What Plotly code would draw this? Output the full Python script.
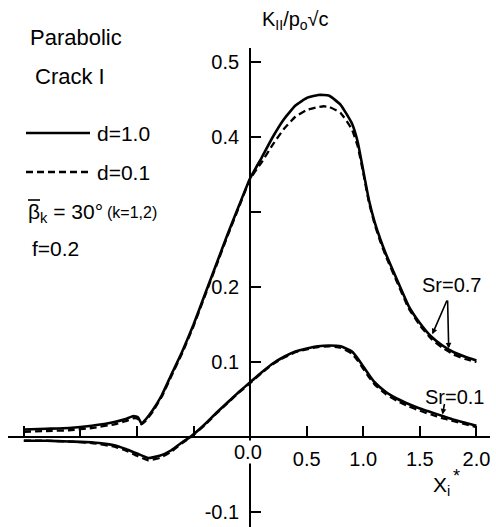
import plotly.graph_objects as go

# ---------------- data ----------------
x_hi = [-2.0, -1.8, -1.6, -1.4, -1.2, -1.1, -1.03, -0.99, -0.96, -0.92, -0.86, -0.78, -0.7, -0.6,
        -0.5, -0.4, -0.3, -0.2, -0.1, 0.0, 0.1, 0.2, 0.3, 0.4, 0.5, 0.6, 0.65, 0.7, 0.8, 0.9,
        0.95, 1.0, 1.05, 1.1, 1.15, 1.2, 1.3, 1.4, 1.5, 1.6, 1.7, 1.8, 1.9, 2.0]
sr07_d10 = [0.010, 0.011, 0.012, 0.015, 0.020, 0.024, 0.028, 0.026, 0.018, 0.024, 0.036, 0.056, 0.082, 0.114,
            0.150, 0.190, 0.230, 0.270, 0.308, 0.345, 0.372, 0.400, 0.424, 0.442, 0.452, 0.456, 0.456, 0.455, 0.443, 0.418,
            0.394, 0.355, 0.316, 0.287, 0.264, 0.244, 0.209, 0.175, 0.152, 0.134, 0.122, 0.113, 0.107, 0.102]
sr07_d01 = [0.007, 0.008, 0.009, 0.012, 0.017, 0.021, 0.025, 0.024, 0.017, 0.022, 0.034, 0.054, 0.080, 0.112,
            0.148, 0.188, 0.228, 0.268, 0.306, 0.344, 0.366, 0.390, 0.411, 0.427, 0.436, 0.440, 0.441, 0.440, 0.432, 0.410,
            0.388, 0.352, 0.313, 0.284, 0.261, 0.241, 0.206, 0.172, 0.149, 0.131, 0.119, 0.110, 0.104, 0.100]

x_lo = [-2.0, -1.8, -1.6, -1.4, -1.2, -1.1, -1.0, -0.9, -0.8, -0.7, -0.6, -0.53, -0.4, -0.3, -0.2, -0.1,
        0.0, 0.1, 0.2, 0.3, 0.4, 0.5, 0.6, 0.7, 0.8, 0.9, 0.95, 1.0, 1.05, 1.1, 1.2, 1.3, 1.4, 1.5,
        1.6, 1.7, 1.8, 1.9, 2.0]
sr01_d10 = [-0.005, -0.005, -0.006, -0.007, -0.011, -0.016, -0.022, -0.028, -0.025, -0.018, -0.007, 0.0, 0.017, 0.032, 0.046, 0.060,
            0.073, 0.086, 0.098, 0.107, 0.114, 0.118, 0.121, 0.122, 0.121, 0.114, 0.105, 0.094, 0.083, 0.073, 0.060, 0.051, 0.044, 0.038,
            0.033, 0.028, 0.023, 0.019, 0.015]
sr01_d01 = [-0.005, -0.005, -0.006, -0.008, -0.013, -0.018, -0.025, -0.031, -0.028, -0.020, -0.008, -0.001, 0.016, 0.031, 0.045, 0.059,
            0.072, 0.085, 0.097, 0.106, 0.113, 0.117, 0.120, 0.121, 0.119, 0.111, 0.102, 0.091, 0.080, 0.070, 0.057, 0.048, 0.041, 0.035,
            0.030, 0.025, 0.021, 0.017, 0.013]

x_tickvals = [0.5, 1.0, 1.5, 2.0]
x_ticktext = ["0.5", "1.0", "1.5", "2.0"]
x_minor_ticks = [-2.0, -1.5, -1.0, -0.5]
y_tickvals = [-0.1, 0.1, 0.2, 0.4, 0.5]
y_ticktext = ["-0.1", "0.1", "0.2", "0.4", "0.5"]
y_minor_ticks = [0.3]

XR = [-2.14, 2.12]
YR = [-0.12, 0.5187]

# ---------------- figure ----------------
W, H = 496, 527
ML, MR, MT, MB = 8, 6, 48, 0
PW, PH = W - ML - MR, H - MT - MB
FONT = "Liberation Sans, Arial, sans-serif"


def px(x):
    return (x - ML) / PW


def py(y):
    return (H - MB - y) / PH


fig = go.Figure()
fig.add_trace(go.Scatter(x=x_hi, y=sr07_d10, mode="lines", line=dict(color="black", width=2.6, shape="spline", smoothing=0.4), showlegend=False))
fig.add_trace(go.Scatter(x=x_hi, y=sr07_d01, mode="lines", line=dict(color="black", width=2.3, dash="7px,4px", shape="spline", smoothing=0.4), showlegend=False))
fig.add_trace(go.Scatter(x=x_lo, y=sr01_d10, mode="lines", line=dict(color="black", width=2.6, shape="spline", smoothing=0.4), showlegend=False))
fig.add_trace(go.Scatter(x=x_lo, y=sr01_d01, mode="lines", line=dict(color="black", width=2.3, dash="7px,4px", shape="spline", smoothing=0.4), showlegend=False))

xpos = (0 - YR[0]) / (YR[1] - YR[0])
ypos = (0 - XR[0]) / (XR[1] - XR[0])

fig.update_layout(
    width=W, height=H,
    margin=dict(l=ML, r=MR, t=MT, b=MB, pad=0),
    paper_bgcolor="white", plot_bgcolor="white",
    font=dict(family=FONT, size=20, color="black"),
    xaxis=dict(range=XR, anchor="free", position=xpos, showline=True, linecolor="black", linewidth=2,
               ticks="inside", ticklen=10, tickwidth=2, tickcolor="black",
               tickvals=x_tickvals, ticktext=x_ticktext, showgrid=False, zeroline=False,
               minor=dict(tickvals=x_minor_ticks, ticks="inside", ticklen=10, tickwidth=2,
                          tickcolor="black", showgrid=False),
               tickfont=dict(family=FONT, size=20), ticklabelstandoff=4),
    yaxis=dict(range=YR, anchor="free", position=ypos, showline=True, linecolor="black", linewidth=2,
               ticks="inside", ticklen=10, tickwidth=2, tickcolor="black",
               tickvals=y_tickvals, ticktext=y_ticktext, showgrid=False, zeroline=False,
               minor=dict(tickvals=y_minor_ticks, ticks="inside", ticklen=10, tickwidth=2,
                          tickcolor="black", showgrid=False),
               tickfont=dict(family=FONT, size=20), ticklabelstandoff=6),
)

ann = []


def text(t, x, y, size=21, xanchor="left", bg=None):
    d = dict(text=t, x=px(x), y=py(y), xref="paper", yref="paper", showarrow=False,
             xanchor=xanchor, yanchor="middle", font=dict(family=FONT, size=size, color="black"))
    if bg:
        d.update(bgcolor=bg, borderpad=0)
    ann.append(d)


text("Parabolic", 28, 38, 22)
text("Crack I", 33, 77, 22)
text("d=1.0", 95, 133, 21)
text("d=0.1", 95, 172, 21)
text("\u03b2<sub>k</sub> = 30\u00b0", 26, 213, 21)
text("(k=1,2)", 105, 212, 16)
text("f=0.2", 30, 248, 21)
text("K<sub>II</sub>/p<sub>o</sub>\u221ac", 260, 20, 20)
text("Sr=0.7", 420, 285, 20)
text("Sr=0.1", 423, 397, 20)
text("X<sub>i</sub>", 431, 486, 21)
text("*", 451, 476, 18)
# tick label at the origin, drawn over the y axis (the axis is broken there)
text("0.0", 248, 452, 20, xanchor="center", bg="white")

# arrows from the labels to the curves
arrow_kw = dict(xref="x", yref="y", axref="x", ayref="y", showarrow=True, text="",
                arrowhead=2, arrowsize=0.7, arrowwidth=1.6, arrowcolor="black")
ann.append(dict(x=1.61, y=0.137, ax=1.745, ay=0.184, **arrow_kw))
ann.append(dict(x=1.755, y=0.118, ax=1.745, ay=0.184, **arrow_kw))
ann.append(dict(x=1.70, y=0.030, ax=1.72, ay=0.046, **arrow_kw))

fig.update_layout(annotations=ann)

# legend sample lines
fig.add_shape(type="line", xref="paper", yref="paper", x0=px(26), x1=px(90), y0=py(133), y1=py(133),
              line=dict(color="black", width=2.6))
fig.add_shape(type="line", xref="paper", yref="paper", x0=px(26), x1=px(90), y0=py(172), y1=py(172),
              line=dict(color="black", width=2.3, dash="7px,4px"))
# bar over beta
fig.add_shape(type="line", xref="paper", yref="paper", x0=px(28), x1=px(40), y0=py(200), y1=py(200),
              line=dict(color="black", width=1.6))

fig.write_html("out.html")
